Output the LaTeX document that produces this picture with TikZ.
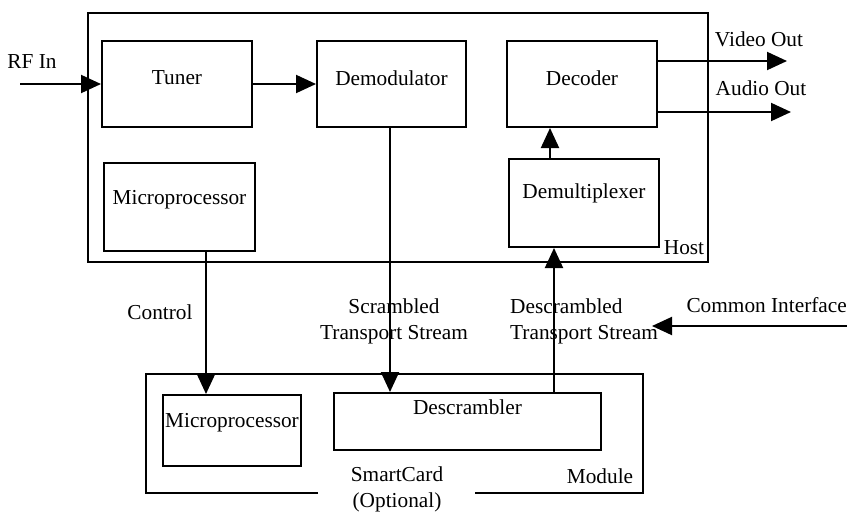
\documentclass[tikz,border=0pt]{standalone}
\usepackage{fontspec}
\setmainfont{Liberation Serif}
\usetikzlibrary{arrows.meta,calc}
\begin{document}
\begin{tikzpicture}[x=1pt,y=-1pt,
  every node/.style={font=\fontsize{21.3}{26}\selectfont, inner sep=0pt},
  box/.style={draw, line width=2pt, rectangle},
  conn/.style={line width=2pt, -{Triangle[length=20pt,width=18pt]}}]
\useasboundingbox (0,0) rectangle (847,512);
% host
\node[box, minimum width=620pt, minimum height=249pt] (host) at (398,137.5) {};
\node[box, minimum width=150pt, minimum height=86pt, label={[yshift=6pt]center:Tuner}] (tuner) at (177,84) {};
\node[box, minimum width=149pt, minimum height=86pt, label={[yshift=6pt]center:Demodulator}] (demod) at (391.5,84) {};
\node[box, minimum width=150pt, minimum height=86pt, label={[yshift=6pt]center:Decoder}] (decoder) at (582,84) {};
\node[box, minimum width=151pt, minimum height=88pt, label={[yshift=7pt]center:Microprocessor}] (microH) at (179.5,207) {};
\node[box, minimum width=150pt, minimum height=88pt, label={[yshift=10pt]center:Demultiplexer}] (demux) at (584,203) {};
\node (hostlbl) at (684,248) {Host};
% module
\node (module) at (394.5,433.5) {};
\draw[line width=2pt] (318,493) -- (146,493) -- (146,374) -- (643,374) -- (643,493) -- (475,493);
\node[box, minimum width=138pt, minimum height=71pt, label={[yshift=8pt]center:Microprocessor}] (microM) at (232,430.5) {};
\node[box, minimum width=267pt, minimum height=57pt, label={[yshift=14pt]center:Descrambler}] (descr) at (467.5,421.5) {};
\node (modlbl) at (600,476) {Module};
\node[align=center] (smart) at (397,489) {SmartCard\\(Optional)};
% coordinates
\coordinate (rfin) at (20,84);
\coordinate (vo) at (787,61);
\coordinate (ao) at (791,112);
\coordinate (ctl) at (206,0);
\coordinate (scr) at (390,0);
\coordinate (dsc) at (554,0);
\coordinate (ci1) at (847,326);
\coordinate (ci2) at (652,326);
% connectors
\draw[conn] (rfin) -- (rfin -| tuner.west);
\draw[conn] (tuner.east) -- (demod.west);
\draw[conn] (decoder.east |- vo) -- (vo);
\draw[conn] (decoder.east |- ao) -- (ao);
\draw[conn] (demux.north -| 550,0) -- (decoder.south -| 550,0);
\draw[conn] (microH.south -| ctl) -- (microM.north -| ctl);
\draw[conn] (demod.south -| scr) -- (descr.north -| scr);
\draw[conn] (descr.north -| dsc) -- (demux.south -| dsc);
\draw[conn] (ci1) -- (ci2);
% labels
\node (rflbl) at (32,62) {RF In};
\node (volbl) at (759,39) {Video Out};
\node (aolbl) at (761,88) {Audio Out};
\node (ctllbl) at (160,312) {Control};
\node[align=center] (scrlbl) at (394,321) {Scrambled\\Transport Stream};
\node[align=left, anchor=west] (dsclbl) at (510,321) {Descrambled\\Transport Stream};
\node[anchor=east] (cilbl) at (847,305) {Common Interface};
\end{tikzpicture}
\end{document}
